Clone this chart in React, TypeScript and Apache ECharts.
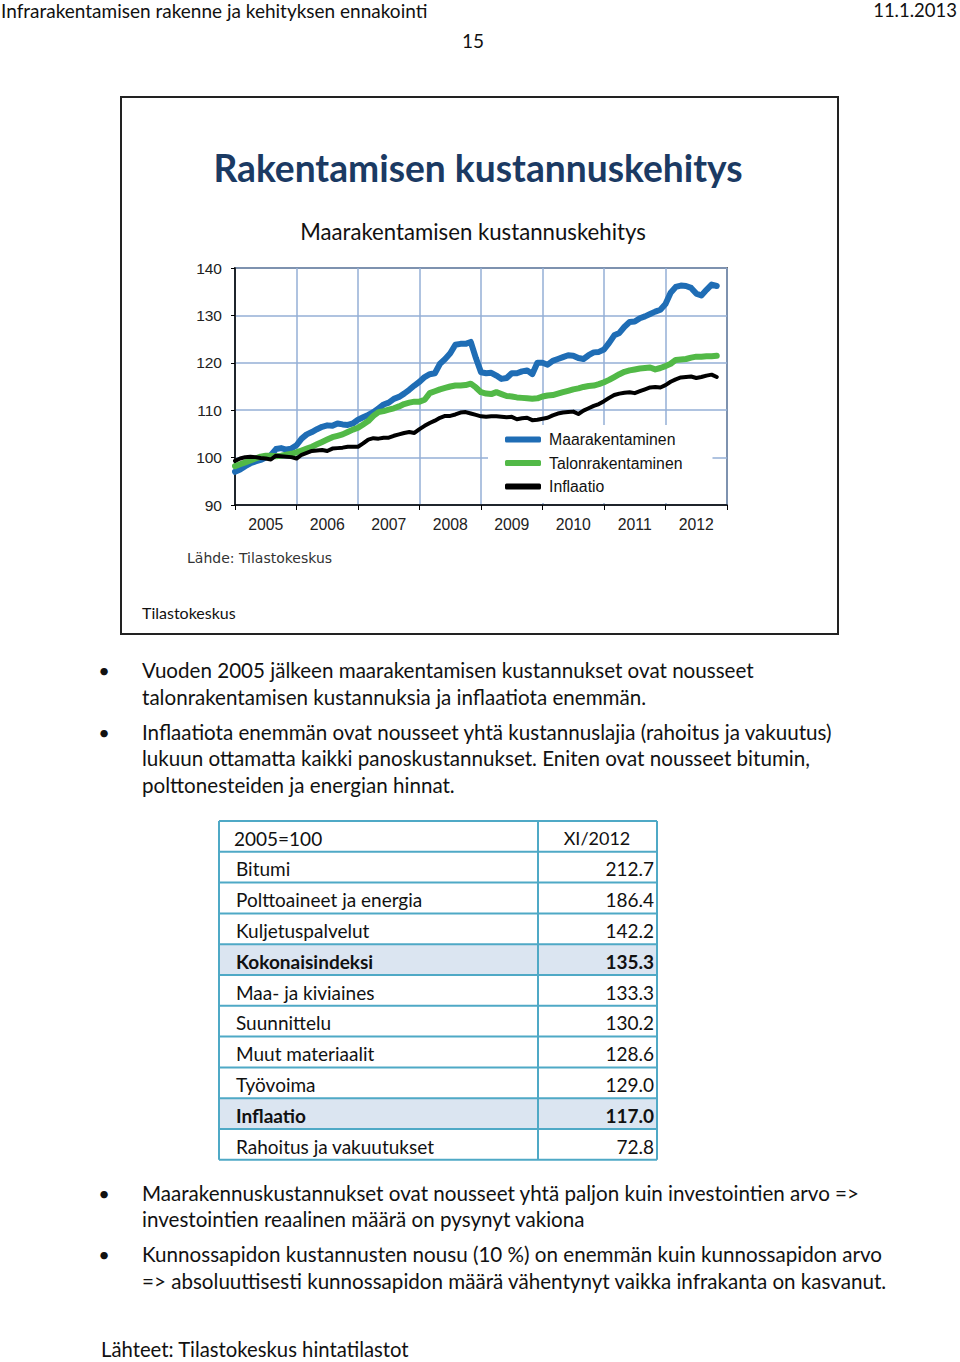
import React, { useEffect, useRef } from "react";
import * as echarts from "echarts";

// ---------- chart data (monthly index, 2005=100, Jan 2005 – Nov 2012) ----------
const years = ["2005", "2006", "2007", "2008", "2009", "2010", "2011", "2012"];
const seriesNames = ["Maarakentaminen", "Talonrakentaminen", "Inflaatio"];

const maarakentaminen = [
  97.0, 97.5, 98.2, 98.8, 99.2, 99.5, 100.0, 100.5, 101.8, 102.0, 101.7, 101.9,
  102.6, 104.0, 104.9, 105.4, 106.0, 106.5, 106.8, 106.7, 107.2, 107.0, 106.9, 107.2,
  108.0, 108.5, 109.0, 109.6, 110.4, 111.2, 111.6, 112.4, 112.8, 113.5, 114.3, 115.2,
  116.0, 117.0, 117.6, 117.8, 119.8, 120.8, 122.0, 123.8, 124.0, 124.0, 124.4, 121.0,
  118.0, 117.8, 117.9, 117.3, 116.6, 116.8, 117.8, 117.8, 118.2, 118.4, 117.6, 120.0,
  120.0, 119.6, 120.4, 120.8, 121.2, 121.6, 121.5, 121.0, 120.8, 121.6, 122.2, 122.3,
  122.8, 124.2, 125.8, 126.3, 127.6, 128.6, 128.7, 129.4, 129.8, 130.3, 130.8, 131.2,
  132.4, 134.8, 136.0, 136.3, 136.2, 135.8, 134.6, 134.2, 135.4, 136.5, 136.2,
];
const talonrakentaminen = [
  98.2, 98.6, 99.0, 99.4, 99.8, 100.2, 100.4, 100.4, 100.3, 100.4, 100.6, 100.8,
  101.1, 101.5, 101.9, 102.3, 102.8, 103.3, 103.8, 104.3, 104.6, 104.9, 105.4, 105.9,
  106.3, 107.0, 107.7, 108.8, 109.6, 109.8, 110.1, 110.4, 110.8, 111.3, 111.6, 111.8,
  111.8, 112.2, 113.6, 114.0, 114.4, 114.7, 115.0, 115.2, 115.2, 115.3, 115.6, 114.8,
  113.8, 113.5, 113.4, 113.8, 113.4, 113.0, 112.9, 112.7, 112.6, 112.5, 112.4, 112.5,
  112.9, 113.1, 113.2, 113.5, 113.8, 114.1, 114.4, 114.6, 114.9, 115.1, 115.2, 115.5,
  115.9, 116.4, 117.0, 117.6, 118.1, 118.4, 118.6, 118.8, 118.9, 119.0, 118.6, 118.9,
  119.3, 119.8, 120.6, 120.7, 120.8, 121.1, 121.3, 121.3, 121.4, 121.4, 121.5,
];
const inflaatio = [
  99.3, 99.8, 100.1, 100.2, 100.1, 99.9, 99.8, 99.6, 100.4, 100.3, 100.2, 100.1,
  99.8, 100.6, 101.0, 101.4, 101.5, 101.6, 101.4, 101.9, 102.0, 102.1, 102.3, 102.3,
  102.3, 103.0, 103.8, 104.1, 104.0, 104.2, 104.2, 104.6, 104.9, 105.2, 105.4, 105.2,
  106.0, 106.7, 107.3, 107.8, 108.4, 108.8, 108.8, 109.1, 109.5, 109.6, 109.3, 109.0,
  108.7, 108.6, 108.7, 108.7, 108.6, 108.5, 108.6, 108.1, 108.3, 108.4, 107.9, 108.0,
  108.2, 108.4, 108.9, 109.3, 109.5, 109.6, 109.7, 109.2, 109.9, 110.4, 110.9, 111.3,
  111.9, 112.6, 113.2, 113.5, 113.7, 113.8, 113.6, 114.0, 114.4, 114.8, 114.9, 114.8,
  115.3, 116.0, 116.5, 116.9, 117.0, 117.1, 116.8, 117.0, 117.3, 117.5, 117.0,
];

// ---------- table data ----------
const tableHeader = ["2005=100", "XI/2012"];
const tableLabels = [
  "Bitumi",
  "Polttoaineet ja energia",
  "Kuljetuspalvelut",
  "Kokonaisindeksi",
  "Maa- ja kiviaines",
  "Suunnittelu",
  "Muut materiaalit",
  "Työvoima",
  "Inflaatio",
  "Rahoitus ja vakuutukset",
];
const tableValues = ["212.7", "186.4", "142.2", "135.3", "133.3", "130.2", "128.6", "129.0", "117.0", "72.8"];
const tableHighlight = [false, false, false, true, false, false, false, false, true, false];

// ---------- page texts ----------
const headerLeft = "Infrarakentamisen rakenne ja kehityksen ennakointi";
const headerRight = "11.1.2013";
const pageNumber = "15";
const slideTitle = "Rakentamisen kustannuskehitys";
const chartTitle = "Maarakentamisen kustannuskehitys";
const chartSource = "Lähde: Tilastokeskus";
const slideSource = "Tilastokeskus";
const bulletBlock1 = [
  ["Vuoden 2005 jälkeen maarakentamisen kustannukset ovat nousseet", "talonrakentamisen kustannuksia ja inflaatiota enemmän."],
  [
    "Inflaatiota enemmän ovat nousseet yhtä kustannuslajia (rahoitus ja vakuutus)",
    "lukuun ottamatta kaikki panoskustannukset. Eniten ovat nousseet bitumin,",
    "polttonesteiden ja energian hinnat.",
  ],
];
const bulletBlock2 = [
  ["Maarakennuskustannukset ovat nousseet yhtä paljon kuin investointien arvo =>", "investointien reaalinen määrä on pysynyt vakiona"],
  [
    "Kunnossapidon kustannusten nousu (10 %) on enemmän kuin kunnossapidon arvo",
    "=> absoluuttisesti kunnossapidon määrä vähentynyt vaikka infrakanta on kasvanut.",
  ],
];
const footerSource = "Lähteet: Tilastokeskus hintatilastot";

const BODY_FONT = "Lato, 'Noto Sans', sans-serif";
const CHART_FONT = "'Liberation Sans', Arial, sans-serif";

function toPoints(values: number[]) {
  return values.map((v, i) => [2005 + i / 12, v]);
}

function txt(text: string, x: number, y: number, size: number, opts: any = {}) {
  return {
    type: "text",
    x,
    y,
    silent: true,
    style: {
      text,
      fill: opts.fill || "#111",
      font: `${opts.weight || "normal"} ${size}px ${opts.family || BODY_FONT}`,
      textAlign: opts.align || "left",
      textVerticalAlign: "middle",
    },
  };
}

function buildGraphics() {
  const g: any[] = [];
  // header
  g.push(txt(headerLeft, 1, 10, 19));
  g.push(txt(headerRight, 957, 10, 18.5, { align: "right" }));
  g.push(txt(pageNumber, 473, 40, 19, { align: "center" }));
  // slide frame
  g.push({
    type: "rect",
    shape: { x: 121, y: 97, width: 717, height: 537 },
    style: { fill: "none", stroke: "#222", lineWidth: 2 },
    silent: true,
  });
  g.push(txt(slideTitle, 478, 167, 37.2, { weight: "bold", fill: "#1b3a63", align: "center" }));
  g.push(txt(chartTitle, 473, 231, 22.2, { align: "center" }));
  g.push(txt(chartSource, 187, 558, 14, { family: "'DejaVu Sans', sans-serif", fill: "#333" }));
  g.push(txt(slideSource, 142, 612, 16));

  // bullets
  const bulletLines = (block: string[][], startYs: number[][]) => {
    block.forEach((lines, bi) => {
      g.push(txt("•", 104, startYs[bi][0], 20, { align: "center" }));
      lines.forEach((line, li) => g.push(txt(line, 142, startYs[bi][li], 20.6)));
    });
  };
  bulletLines(bulletBlock1, [[670, 697], [732, 758, 785]]);
  bulletLines(bulletBlock2, [[1193, 1219], [1254, 1281]]);
  g.push(txt(footerSource, 101, 1349, 20.3));

  // table
  const tx0 = 219, tx1 = 657, tdiv = 538, ty0 = 821, rowH = 30.8;
  const nRows = tableLabels.length + 1;
  tableHighlight.forEach((h, i) => {
    if (h) {
      g.push({
        type: "rect",
        shape: { x: tx0, y: ty0 + (i + 1) * rowH, width: tx1 - tx0, height: rowH },
        style: { fill: "#dbe5f1" },
        silent: true,
      });
    }
  });
  const border = { stroke: "#4fa9c6", lineWidth: 2 };
  for (let k = 0; k <= nRows; k++) {
    const y = ty0 + k * rowH;
    g.push({ type: "line", shape: { x1: tx0, y1: y, x2: tx1, y2: y }, style: border, silent: true });
  }
  [tx0, tdiv, tx1].forEach((x) =>
    g.push({ type: "line", shape: { x1: x, y1: ty0, x2: x, y2: ty0 + nRows * rowH }, style: border, silent: true })
  );
  g.push(txt(tableHeader[0], 234, ty0 + 17, 19));
  g.push(txt(tableHeader[1], 597, ty0 + 17, 18, { align: "center" }));
  tableLabels.forEach((label, i) => {
    const y = ty0 + (i + 1) * rowH + 17;
    const weight = tableHighlight[i] ? "bold" : "normal";
    g.push(txt(label, 236, y, 19, { weight }));
    g.push(txt(tableValues[i], 654, y, 19, { weight, align: "right" }));
  });
  return g;
}

export default function App() {
  const ref = useRef<HTMLDivElement>(null);
  useEffect(() => {
    if (!ref.current) return;
    const chart = echarts.init(ref.current, undefined, { renderer: "svg" });
    const gridColor = "#94afd6";
    const colors = ["#1f6db5", "#52b947", "#000000"];
    chart.setOption({
      animation: false,
      backgroundColor: "#ffffff",
      grid: {
        left: 235,
        top: 268,
        width: 492,
        height: 237,
        show: true,
        borderColor: "#000",
        borderWidth: 1.5,
      },
      legend: {
        data: seriesNames,
        orient: "vertical",
        left: 488,
        top: 425,
        padding: [6, 30, 8, 17],
        backgroundColor: "#ffffff",
        itemWidth: 36,
        itemHeight: 6,
        itemGap: 6.5,
        icon: "roundRect",
        selectedMode: false,
        textStyle: { fontFamily: CHART_FONT, fontSize: 15.8, color: "#111", lineHeight: 17, padding: [0, 0, 0, 3] },
      },
      xAxis: [
        {
          type: "value",
          min: 2005,
          max: 2013,
          interval: 1,
          axisLine: { show: true, onZero: false, lineStyle: { color: "#000", width: 1.5 } },
          axisTick: { show: true, length: 5, lineStyle: { color: "#000" } },
          axisLabel: { show: false },
          splitLine: { show: true, lineStyle: { color: gridColor, width: 1.5 } },
        },
        {
          type: "category",
          data: years,
          position: "bottom",
          boundaryGap: true,
          axisLine: { show: false },
          axisTick: { show: false },
          splitLine: { show: false },
          axisLabel: { fontFamily: CHART_FONT, fontSize: 15.8, color: "#222", margin: 11 },
        },
      ],
      yAxis: {
        type: "value",
        min: 90,
        max: 140,
        interval: 10,
        axisLine: { show: true, lineStyle: { color: "#000", width: 1.5 } },
        axisTick: { show: true, length: 4, lineStyle: { color: "#000" } },
        axisLabel: { fontFamily: CHART_FONT, fontSize: 15.5, color: "#222", margin: 13 },
        splitLine: { show: true, lineStyle: { color: gridColor, width: 1.5 } },
      },
      series: [
        { name: seriesNames[0], data: toPoints(maarakentaminen), width: 6 },
        { name: seriesNames[1], data: toPoints(talonrakentaminen), width: 6 },
        { name: seriesNames[2], data: toPoints(inflaatio), width: 4 },
      ].map((s, i) => ({
        type: "line",
        name: s.name,
        xAxisIndex: 0,
        data: s.data,
        symbol: "none",
        smooth: false,
        color: colors[i],
        lineStyle: { color: colors[i], width: s.width, cap: "round", join: "round" },
        itemStyle: { color: colors[i] },
      })),
      graphic: buildGraphics(),
    });
    return () => chart.dispose();
  }, []);
  return (
    <div
      ref={ref}
      style={{ position: "absolute", left: 0, top: 0, width: 960, height: 1362, background: "#fff" }}
    />
  );
}
